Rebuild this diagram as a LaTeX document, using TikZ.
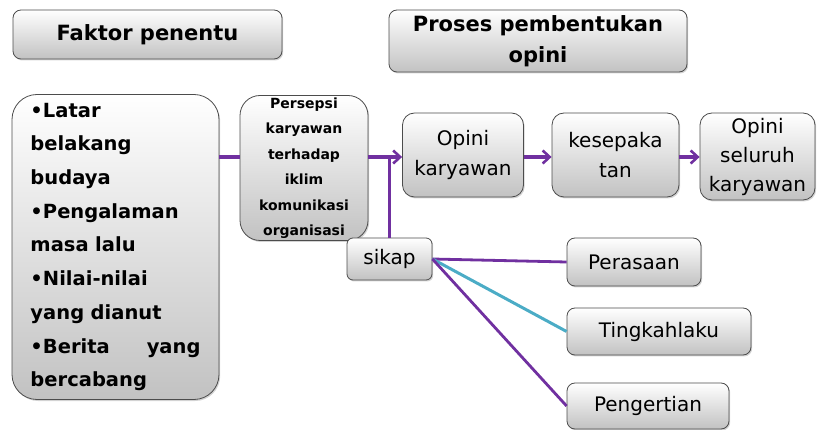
\documentclass[tikz,border=0pt]{standalone}
\usepackage{fontspec}
\setmainfont{DejaVu Sans}
\usetikzlibrary{shadows,arrows.meta}

\definecolor{ungu}{HTML}{7030A0}
\definecolor{biru}{HTML}{4BACC6}

\def\hurufbesar{\fontsize{20}{30}\selectfont}
\def\hurufjudul{\bfseries\fontsize{21}{31}\selectfont}

\tikzset{
  kotak/.style={draw=black!70, line width=0.8pt, rounded corners=8pt,
    top color=white, bottom color=black!24, align=center, inner sep=1pt,
    drop shadow={shadow xshift=1.2pt, shadow yshift=-1.5pt, opacity=0.35}},
  garis/.style={ungu, line width=3.2pt},
  panah/.style={garis, -{Straight Barb[length=7pt,width=13pt,line width=2.6pt]}}
}

\begin{document}
\begin{tikzpicture}[x=1pt,y=1pt]
        \useasboundingbox (0,0) rectangle (817,-430);
        % judul
        \node[kotak, minimum width=269, minimum height=49, font=\hurufjudul] (faktor) at (147.5,-34.5) {Faktor penentu};
        \node[kotak, minimum width=298, minimum height=62, font=\hurufjudul] (proses) at (538,-41) {Proses pembentukan\\opini};
        % faktor-faktor
        \node[kotak, rounded corners=25pt, minimum width=207, minimum height=305, text width=170, align=left,
              font=\bfseries\fontsize{19.5}{33.7}\selectfont] (daftar) at (115.5,-247)
              {•Latar\\belakang\\budaya\\•Pengalaman\\masa lalu\\•Nilai-nilai\\yang dianut\\•Berita\hfill yang\\bercabang};
        \node[kotak, rounded corners=20pt, minimum width=128, minimum height=145,
              font=\bfseries\fontsize{14}{25.5}\selectfont] (persepsi) at (304,-168)
              {Persepsi\\karyawan\\terhadap\\iklim\\komunikasi\\organisasi};
        % proses
        \node[kotak, rounded corners=12pt, minimum width=121, minimum height=84, font=\hurufbesar] (opini) at (463,-155) {Opini\\karyawan};
        \node[kotak, rounded corners=12pt, minimum width=127, minimum height=84, font=\hurufbesar] (sepakat) at (615.5,-155) {kesepaka\\tan};
        \node[kotak, rounded corners=12pt, minimum width=115, minimum height=87, font=\fontsize{20}{29}\selectfont] (seluruh) at (757.5,-156.5) {Opini\\seluruh\\karyawan};
        % sikap
        \node[kotak, rounded corners=6pt, minimum width=85, minimum height=42, font=\hurufbesar] (sikap) at (389.5,-259) {sikap};
        \node[kotak, minimum width=134, minimum height=48, font=\hurufbesar] (rasa) at (634,-262) {Perasaan};
        \node[kotak, minimum width=184, minimum height=47, font=\hurufbesar] (laku) at (659,-331.5) {Tingkahlaku};
        \node[kotak, minimum width=162, minimum height=46, font=\hurufbesar] (erti) at (648,-406) {Pengertian};
        % penghubung
        \coordinate (jalur) at (0,-157);
        \draw[garis] (jalur -| daftar.east) -- (jalur -| persepsi.west);
        \draw[panah] (jalur -| persepsi.east) -- (jalur -| opini.west);
        \draw[garis] (sikap.north) -- (sikap.north |- jalur);
        \draw[panah] (opini.east |- jalur) -- (sepakat.west |- jalur);
        \draw[panah] (sepakat.east |- jalur) -- (seluruh.west |- jalur);
        \draw[garis, line width=2.8pt] (sikap.east) -- (rasa.west);
        \draw[biru, line width=3pt] (sikap.east) -- (laku.west);
        \draw[garis, line width=2.8pt] (sikap.east) -- (erti.west);
    \end{tikzpicture}
\end{document}
